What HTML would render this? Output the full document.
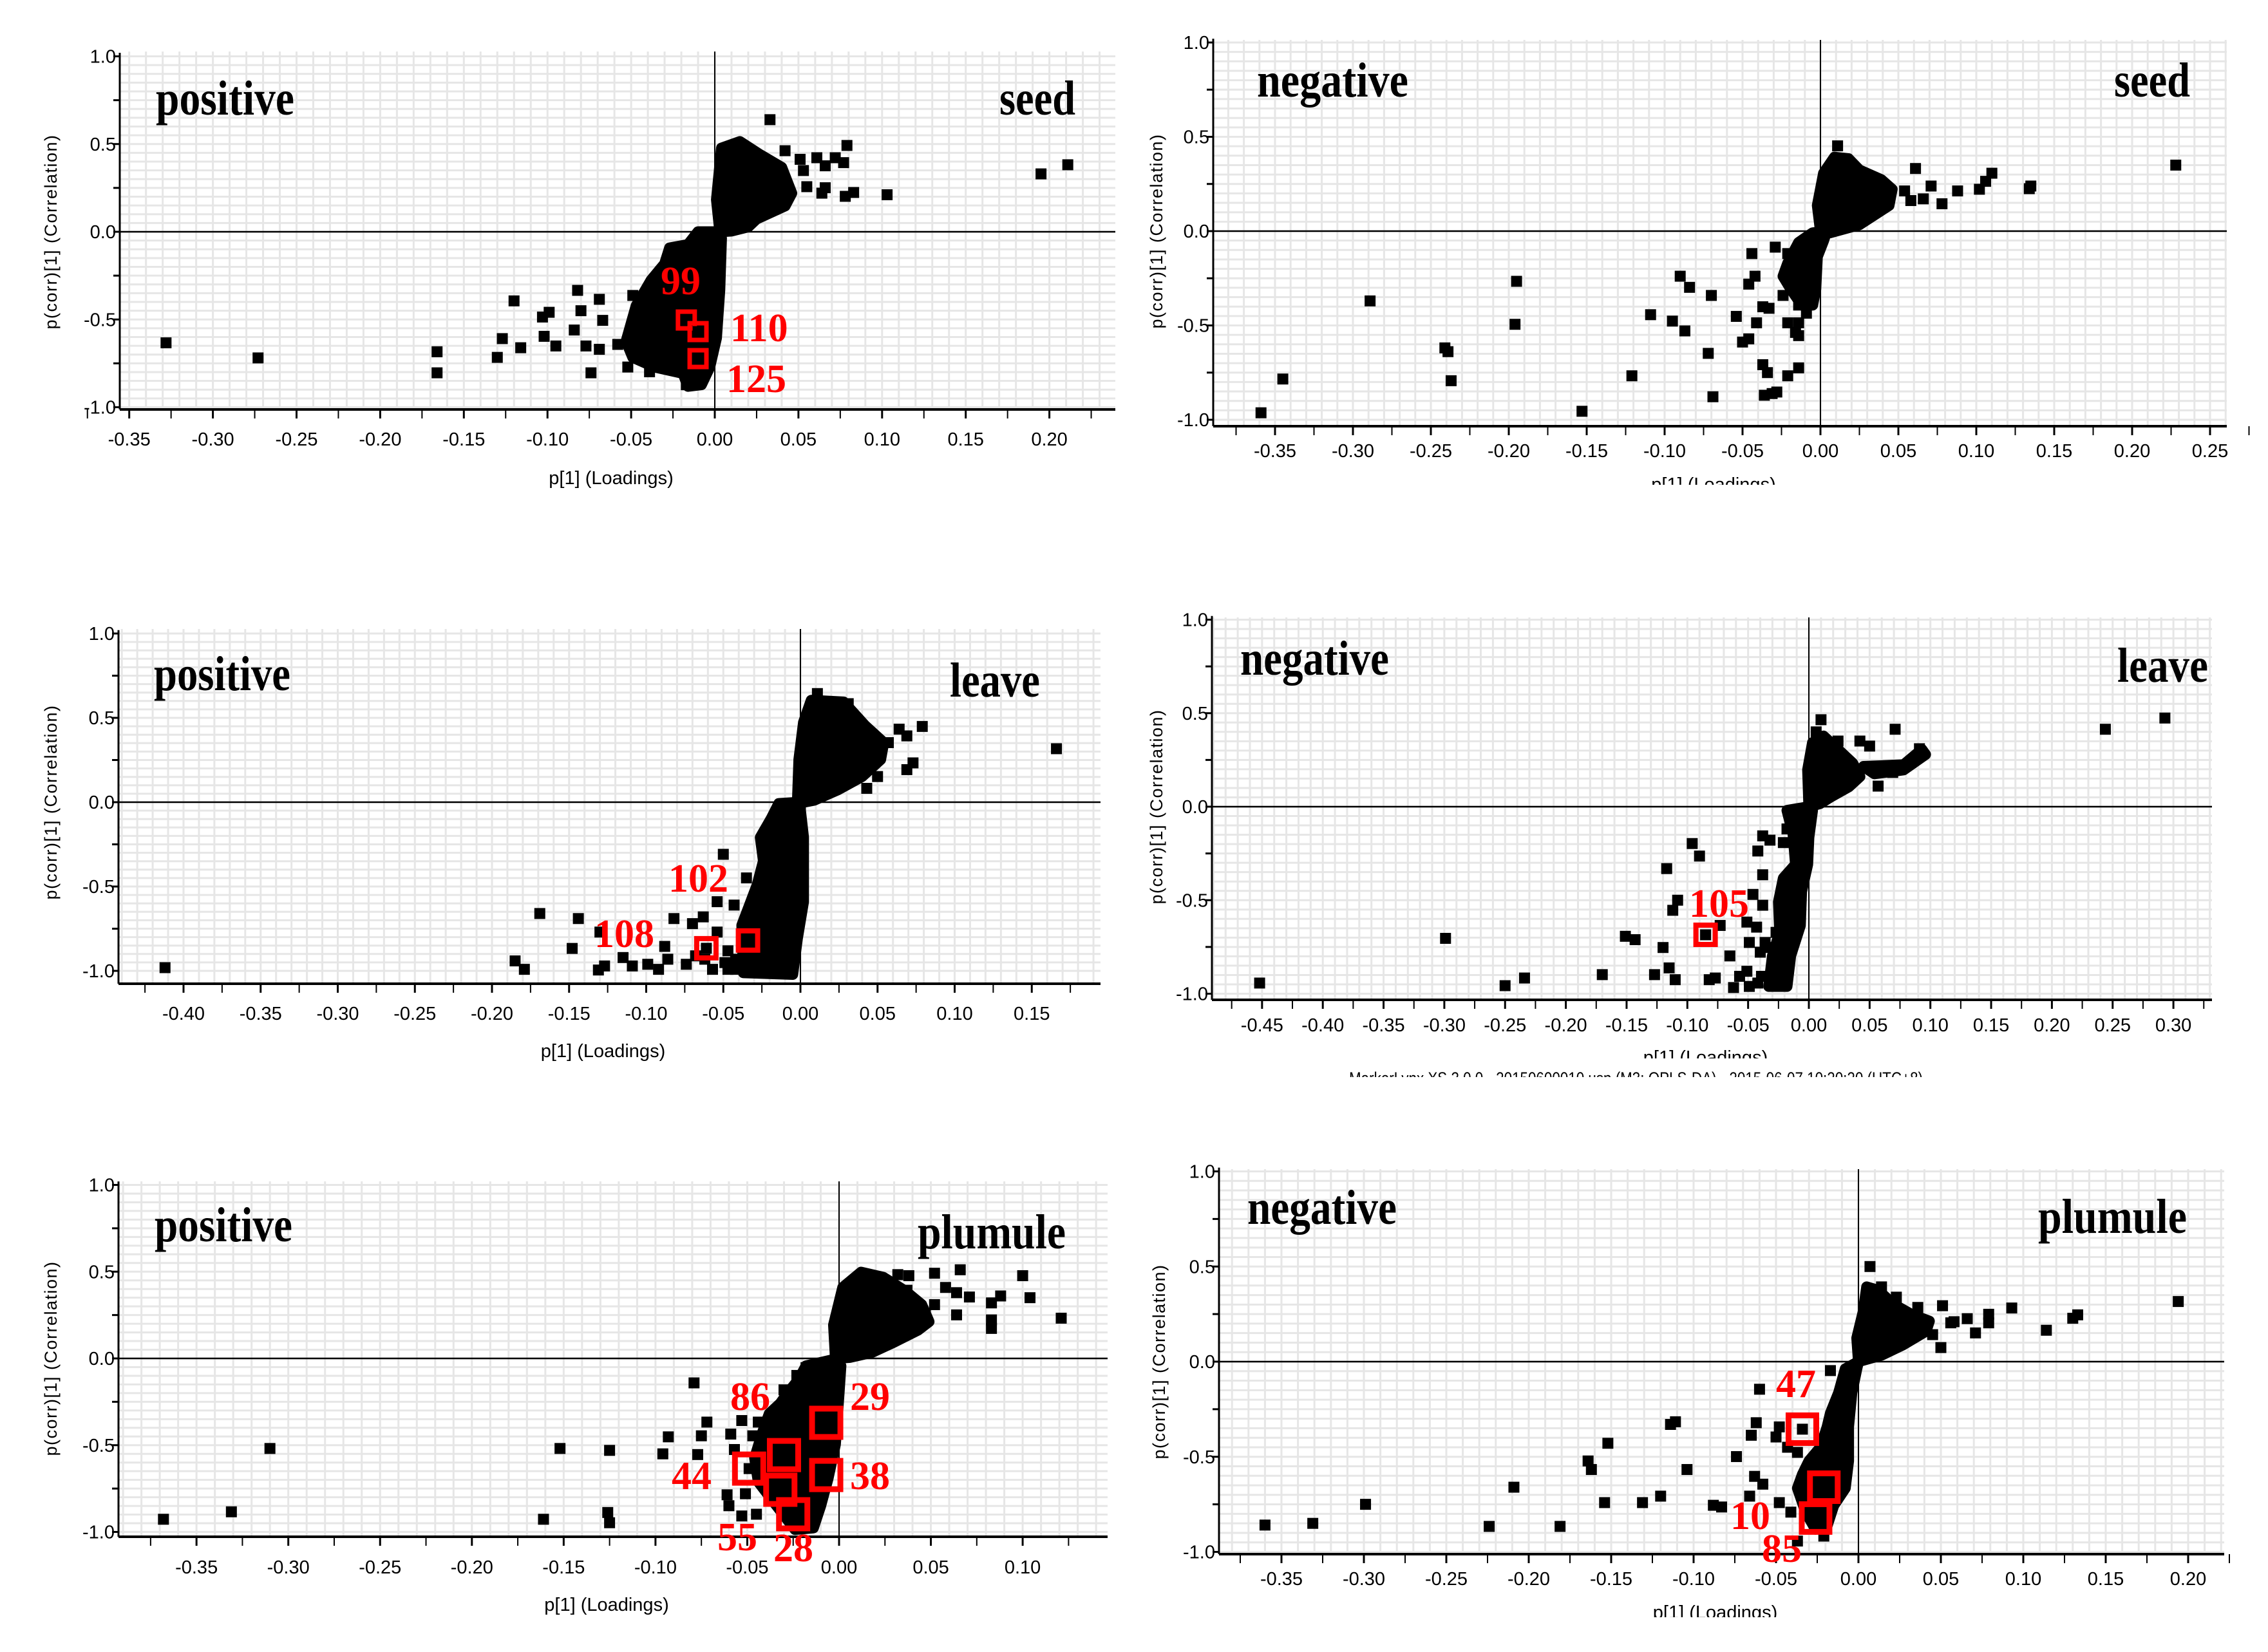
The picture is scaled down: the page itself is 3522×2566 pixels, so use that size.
<!DOCTYPE html>
<html><head><meta charset="utf-8">
<style>
html,body{margin:0;padding:0;background:#fff;}
svg{display:block;}
</style></head>
<body>
<svg id="fig" width="3522" height="2566" viewBox="0 0 3522 2566" xmlns="http://www.w3.org/2000/svg">
<rect x="0" y="0" width="3522" height="2566" fill="#fff"/>
<defs>
<clipPath id="clipR1"><rect x="1760" y="0" width="1762" height="753"/></clipPath>
<clipPath id="clipR2"><rect x="1760" y="900" width="1762" height="744"/></clipPath>
<clipPath id="clipFoot"><rect x="1760" y="1656" width="1762" height="17"/></clipPath>
<clipPath id="clipR3"><rect x="1760" y="1750" width="1762" height="762"/></clipPath>
</defs>
<g id="layer"></g>
</svg>
<script>
// ===== Data (p[1] loadings, p(corr)[1] correlation) =====
const xTicks1 = [-0.35,-0.30,-0.25,-0.20,-0.15,-0.10,-0.05,0.00,0.05,0.10,0.15,0.20];
const xTicks2 = [-0.35,-0.30,-0.25,-0.20,-0.15,-0.10,-0.05,0.00,0.05,0.10,0.15,0.20,0.25];
const xTicks3 = [-0.40,-0.35,-0.30,-0.25,-0.20,-0.15,-0.10,-0.05,0.00,0.05,0.10,0.15];
const xTicks4 = [-0.45,-0.40,-0.35,-0.30,-0.25,-0.20,-0.15,-0.10,-0.05,0.00,0.05,0.10,0.15,0.20,0.25,0.30];
const xTicks5 = [-0.35,-0.30,-0.25,-0.20,-0.15,-0.10,-0.05,0.00,0.05,0.10];
const xTicks6 = [-0.35,-0.30,-0.25,-0.20,-0.15,-0.10,-0.05,0.00,0.05,0.10,0.15,0.20];
const yTicks = [1.0,0.5,0.0,-0.5,-1.0];

const p1Points = [[-0.328,-0.633],[-0.273,-0.719],[-0.166,-0.684],[-0.166,-0.804],[-0.127,-0.609],[-0.130,-0.716],[-0.120,-0.394],[-0.116,-0.661],[-0.103,-0.486],[-0.099,-0.459],[-0.102,-0.596],[-0.095,-0.651],[-0.082,-0.334],[-0.080,-0.450],[-0.084,-0.560],[-0.069,-0.385],[-0.067,-0.505],[-0.077,-0.651],[-0.069,-0.670],[-0.074,-0.804],[-0.058,-0.642],[-0.049,-0.363],[-0.052,-0.771],[-0.039,-0.798],[-0.017,-0.872],[0.033,0.639],[0.079,0.492],[0.077,0.394],[0.083,0.224],[0.078,0.202],[0.103,0.211],[0.195,0.330],[0.211,0.382],[0.066,0.251],[0.064,0.220],[0.055,0.257],[0.051,0.413],[0.061,0.422],[0.042,0.462],[0.066,0.376],[0.072,0.422],[0.040,0.312],[0.053,0.349]];
const p1Upper = [[0.003,0],[0.001,0.183],[0.004,0.477],[0.015,0.514],[0.027,0.440],[0.040,0.367],[0.046,0.220],[0.042,0.147],[0.025,0.073],[0.020,0.028],[0.010,0.004]];
const p1Lower = [[0.003,0],[-0.010,0],[-0.016,-0.073],[-0.027,-0.092],[-0.030,-0.183],[-0.038,-0.275],[-0.047,-0.422],[-0.053,-0.624],[-0.049,-0.716],[-0.036,-0.771],[-0.019,-0.807],[-0.016,-0.881],[-0.008,-0.872],[-0.003,-0.771],[0.001,-0.606],[0.003,-0.330],[0.004,-0.037]];
const p1Marked = [[-0.017,-0.503],[-0.010,-0.569],[-0.010,-0.723]];
const p1MarkLabels = ["99","110","125"];

const p2Points = [[-0.359,-0.963],[-0.345,-0.784],[-0.289,-0.370],[-0.241,-0.619],[-0.239,-0.639],[-0.237,-0.793],[-0.195,-0.266],[-0.196,-0.494],[-0.153,-0.955],[-0.121,-0.767],[-0.109,-0.443],[-0.095,-0.477],[-0.090,-0.239],[-0.087,-0.529],[-0.084,-0.298],[-0.072,-0.648],[-0.070,-0.341],[-0.069,-0.878],[-0.054,-0.452],[-0.050,-0.588],[-0.046,-0.571],[-0.044,-0.119],[-0.042,-0.239],[-0.046,-0.281],[-0.041,-0.486],[-0.037,-0.708],[-0.034,-0.750],[-0.036,-0.870],[-0.031,-0.861],[-0.028,-0.853],[-0.037,-0.401],[-0.033,-0.409],[-0.029,-0.085],[-0.024,-0.341],[-0.021,-0.486],[-0.021,-0.767],[-0.014,-0.725],[-0.014,-0.486],[-0.016,-0.537],[-0.014,-0.554],[-0.014,-0.392],[-0.009,-0.435],[-0.006,-0.367],[-0.020,-0.205],[-0.021,-0.119],[0.061,0.332],[0.088,0.213],[0.078,0.145],[0.102,0.222],[0.106,0.264],[0.110,0.307],[0.134,0.225],[0.135,0.239],[0.228,0.350],[0.071,0.239],[0.066,0.171],[0.058,0.162],[0.054,0.213],[0.011,0.452]];
const p2Upper = [[0,0],[-0.002,0.136],[0.002,0.307],[0.009,0.392],[0.018,0.384],[0.025,0.324],[0.039,0.273],[0.046,0.222],[0.044,0.136],[0.025,0.034],[0.006,-0.009]];
const p2Lower = [[0.004,0],[-0.005,-0.009],[-0.014,-0.060],[-0.021,-0.170],[-0.024,-0.239],[-0.019,-0.307],[-0.012,-0.392],[-0.005,-0.392],[-0.003,-0.307],[-0.002,-0.136],[0.002,-0.051]];
const p2Marked = [];
const p2MarkLabels = [];

const p3Points = [[-0.412,-0.981],[-0.169,-0.660],[-0.144,-0.690],[-0.148,-0.867],[-0.185,-0.941],[-0.179,-0.991],[-0.130,-0.770],[-0.131,-0.995],[-0.127,-0.971],[-0.115,-0.921],[-0.109,-0.971],[-0.099,-0.961],[-0.092,-0.991],[-0.088,-0.855],[-0.086,-0.931],[-0.082,-0.690],[-0.074,-0.961],[-0.070,-0.720],[-0.063,-0.680],[-0.057,-0.991],[-0.050,-0.309],[-0.054,-0.590],[-0.043,-0.610],[-0.035,-0.449],[-0.035,-0.991],[-0.047,-0.881],[0.079,0.449],[0.069,0.393],[0.069,0.193],[0.073,0.233],[0.166,0.317],[0.057,0.353],[0.043,0.082],[0.050,0.152],[0.064,0.433],[0.011,0.644],[0.031,0.584],[-0.068,-0.911],[-0.062,-0.931],[-0.054,-0.770],[-0.049,-0.951],[-0.042,-0.931],[-0.047,-0.991],[-0.042,-0.991]];
const p3Upper = [[-0.002,-0.008],[-0.001,0.253],[0.002,0.473],[0.007,0.604],[0.028,0.594],[0.042,0.453],[0.054,0.353],[0.052,0.253],[0.040,0.152],[0.024,0.072],[0.009,0.012]];
const p3Lower = [[0,0],[-0.014,-0.008],[-0.019,-0.098],[-0.026,-0.209],[-0.024,-0.349],[-0.028,-0.489],[-0.033,-0.610],[-0.038,-0.730],[-0.037,-1.011],[-0.005,-1.021],[-0.002,-0.810],[0.002,-0.590],[0.002,-0.209],[0,-0.048]];
const p3Marked = [[-0.061,-0.866],[-0.034,-0.820]];
const p3MarkLabels = ["108","102"];

const p4Points = [[-0.452,-0.943],[-0.299,-0.704],[-0.250,-0.957],[-0.234,-0.916],[-0.170,-0.898],[-0.151,-0.693],[-0.143,-0.711],[-0.127,-0.898],[-0.120,-0.753],[-0.115,-0.862],[-0.110,-0.925],[-0.117,-0.331],[-0.112,-0.554],[-0.108,-0.500],[-0.096,-0.197],[-0.090,-0.264],[-0.082,-0.925],[-0.077,-0.916],[-0.073,-0.635],[-0.065,-0.798],[-0.062,-0.967],[-0.057,-0.907],[-0.051,-0.880],[-0.049,-0.726],[-0.046,-0.469],[-0.051,-0.617],[-0.043,-0.644],[-0.040,-0.778],[-0.038,-0.156],[-0.032,-0.179],[-0.042,-0.237],[-0.038,-0.364],[-0.038,-0.527],[-0.021,-0.192],[-0.018,-0.119],[-0.015,-0.038],[0.071,0.414],[0.057,0.110],[0.091,0.310],[0.084,0.237],[0.069,0.183],[0.050,0.324],[0.042,0.351],[0.010,0.465],[0.244,0.414],[0.293,0.474],[0.006,0.400],[0.024,0.351],[-0.027,-0.672],[-0.036,-0.726],[-0.027,-0.916],[-0.042,-0.943],[-0.049,-0.961],[-0.031,-0.753],[-0.030,-0.880],[-0.039,-0.907]];
const p4Upper = [[0,0],[-0.001,0.197],[0.003,0.342],[0.012,0.378],[0.021,0.324],[0.036,0.233],[0.042,0.161],[0.033,0.107],[0.018,0.052],[0.009,0.016]];
const p4Arm = [[0.045,0.215],[0.078,0.224],[0.093,0.306],[0.096,0.279],[0.078,0.197],[0.054,0.176]];
const p4Lower = [[0,0],[-0.018,-0.020],[-0.013,-0.147],[-0.011,-0.309],[-0.021,-0.382],[-0.025,-0.509],[-0.024,-0.672],[-0.030,-0.798],[-0.033,-0.961],[-0.018,-0.961],[-0.015,-0.798],[-0.007,-0.635],[-0.006,-0.454],[-0.001,-0.309],[0,-0.165],[0.003,-0.020]];
const p4Marked = [[-0.085,-0.685]];
const p4MarkLabels = ["105"];

const p5Points = [[-0.368,-0.927],[-0.331,-0.884],[-0.310,-0.519],[-0.161,-0.927],[-0.152,-0.519],[-0.125,-0.530],[-0.126,-0.888],[-0.125,-0.947],[-0.096,-0.550],[-0.093,-0.452],[-0.079,-0.141],[-0.077,-0.554],[-0.075,-0.446],[-0.072,-0.367],[-0.059,-0.436],[-0.057,-0.525],[-0.053,-0.358],[-0.061,-0.786],[-0.060,-0.849],[-0.051,-0.780],[-0.053,-0.908],[-0.045,-0.898],[-0.044,-0.367],[-0.047,-0.446],[-0.030,-0.181],[-0.018,-0.053],[-0.023,-0.098],[0.032,0.483],[0.038,0.477],[0.052,0.491],[0.066,0.511],[0.100,0.477],[0.104,0.350],[0.121,0.232],[0.083,0.173],[0.083,0.222],[0.083,0.320],[0.088,0.360],[0.064,0.251],[0.052,0.310],[0.058,0.409],[0.071,0.354],[0.064,0.379],[0.037,0.393],[0.047,0.251]];
const p5Upper = [[-0.002,0],[-0.003,0.193],[0.002,0.409],[0.012,0.497],[0.024,0.468],[0.036,0.389],[0.045,0.310],[0.049,0.212],[0.043,0.163],[0.030,0.094],[0.018,0.035],[0.006,0.006]];
const p5Lower = [[-0.002,-0.004],[-0.018,-0.043],[-0.022,-0.122],[-0.028,-0.200],[-0.032,-0.259],[-0.038,-0.318],[-0.042,-0.436],[-0.046,-0.574],[-0.044,-0.711],[-0.034,-0.849],[-0.024,-0.986],[-0.014,-0.977],[-0.010,-0.849],[-0.006,-0.692],[-0.002,-0.495],[0,-0.200],[0.001,-0.043]];
const p5Marked = [[-0.007,-0.371],[-0.030,-0.557],[-0.007,-0.672],[-0.049,-0.635],[-0.032,-0.757],[-0.025,-0.898]];
const p5MarkLabels = ["29","86","38","44","55","28"];

const p6Points = [[-0.360,-0.859],[-0.331,-0.850],[-0.299,-0.750],[-0.224,-0.866],[-0.209,-0.660],[-0.181,-0.866],[-0.164,-0.522],[-0.162,-0.567],[-0.154,-0.741],[-0.152,-0.429],[-0.131,-0.741],[-0.120,-0.707],[-0.114,-0.330],[-0.111,-0.316],[-0.104,-0.567],[-0.088,-0.755],[-0.083,-0.764],[-0.074,-0.499],[-0.066,-0.707],[-0.065,-0.387],[-0.062,-0.321],[-0.063,-0.603],[-0.060,-0.145],[-0.058,-0.644],[-0.048,-0.741],[-0.041,-0.791],[-0.037,-0.943],[-0.021,-0.917],[-0.050,-0.396],[-0.048,-0.343],[-0.043,-0.450],[-0.037,-0.477],[-0.017,-0.047],[0.007,0.500],[0.051,0.294],[0.050,0.074],[0.093,0.282],[0.114,0.165],[0.130,0.228],[0.133,0.246],[0.194,0.316],[0.079,0.249],[0.079,0.204],[0.071,0.151],[0.066,0.226],[0.058,0.210],[0.056,0.204],[0.045,0.142],[0.036,0.285],[0.023,0.339],[0.014,0.393]];
const p6Upper = [[0,0],[-0.001,0.124],[0.003,0.267],[0.005,0.393],[0.012,0.375],[0.021,0.303],[0.032,0.249],[0.043,0.213],[0.041,0.160],[0.027,0.088],[0.014,0.034]];
const p6Lower = [[0,0],[-0.008,-0.038],[-0.012,-0.163],[-0.017,-0.271],[-0.019,-0.343],[-0.023,-0.450],[-0.030,-0.522],[-0.034,-0.593],[-0.037,-0.665],[-0.032,-0.791],[-0.026,-0.881],[-0.019,-0.863],[-0.015,-0.756],[-0.008,-0.665],[-0.006,-0.522],[-0.006,-0.343],[-0.004,-0.163],[-0.001,-0.038]];
const p6Marked = [[-0.034,-0.355],[-0.021,-0.660],[-0.026,-0.822]];
const p6MarkLabels = ["47","10","85"];

// ===== Layout (pixel geometry, not data) =====
const NS = "http://www.w3.org/2000/svg";
const layer = document.getElementById('layer');
const panels = [
 {id:'seed-positive', clip:null, L:186,R:1732,T:80,B:636,x0:1110,xs:2598,y0:360,ys:272.5, ticks:xTicks1, tl:692, xl:752, yt:79,
  ion:'positive', ionX:242, ionY:178, ionW:215, tis:'seed', tisX:1670, tisY:178, tisW:118,
  pts:p1Points, blobs:[p1Upper,p1Lower], marks:p1Marked, box:26, bw:7,
  labs:[[1026,457],[1134,530],[1128,609]], labT:p1MarkLabels},
 {id:'seed-negative', clip:'clipR1', L:1884,R:3458,T:62,B:662,x0:2827,xs:2420,y0:359,ys:293, ticks:xTicks2, tl:710, xl:762, yt:1796,
  ion:'negative', ionX:1952, ionY:150, ionW:235, tis:'seed', tisX:3401, tisY:150, tisW:118,
  pts:p2Points, blobs:[p2Upper,p2Lower], marks:p2Marked, box:26, bw:7, labs:[], labT:p2MarkLabels},
 {id:'leave-positive', clip:null, L:184,R:1709,T:977,B:1528,x0:1243,xs:2395,y0:1246,ys:262, ticks:xTicks3, tl:1584, xl:1642, yt:79,
  ion:'positive', ionX:239, ionY:1072, ionW:212, tis:'leave', tisX:1615, tisY:1082, tisW:140,
  pts:p3Points, blobs:[p3Upper,p3Lower], marks:p3Marked, box:30, bw:8,
  labs:[[923,1471],[1038,1385]], labT:p3MarkLabels},
 {id:'leave-negative', clip:'clipR2', L:1882,R:3435,T:959,B:1553,x0:2809,xs:1887,y0:1253,ys:290.5, ticks:xTicks4, tl:1602, xl:1652, yt:1796,
  ion:'negative', ionX:1926, ionY:1048, ionW:231, tis:'leave', tisX:3429, tisY:1059, tisW:141,
  pts:p4Points, blobs:[p4Upper,p4Arm,p4Lower], marks:p4Marked, box:30, bw:8,
  labs:[[2623,1424]], labT:p4MarkLabels},
 {id:'plumule-positive', clip:null, L:184,R:1720,T:1835,B:2387,x0:1303,xs:2851,y0:2110,ys:269.5, ticks:xTicks5, tl:2444, xl:2502, yt:79,
  ion:'positive', ionX:240, ionY:1928, ionW:214, tis:'plumule', tisX:1655, tisY:1939, tisW:230,
  pts:p5Points, blobs:[p5Upper,p5Lower], marks:p5Marked, box:44, bw:9,
  labs:[[1320,2190],[1134,2190],[1320,2313],[1043,2313],[1114,2408],[1201,2425]], labT:p5MarkLabels},
 {id:'plumule-negative', clip:'clipR3', L:1893,R:3454,T:1816,B:2414,x0:2886,xs:2560,y0:2115,ys:295.5, ticks:xTicks6, tl:2462, xl:2514, yt:1800,
  ion:'negative', ionX:1937, ionY:1901, ionW:232, tis:'plumule', tisX:3396, tisY:1915, tisW:231,
  pts:p6Points, blobs:[p6Upper,p6Lower], marks:p6Marked, box:43, bw:9,
  labs:[[2758,2170],[2687,2375],[2736,2426]], labT:p6MarkLabels}
];

function mk(tag, parent, attrs){
  const e = document.createElementNS(NS, tag);
  for (const k in attrs) e.setAttribute(k, attrs[k]);
  parent.appendChild(e);
  return e;
}
const MS = 17;

panels.forEach(function(p, pi){
  const g = mk('g', layer, {});
  
  
  if (p.clip) g.setAttribute('clip-path', 'url(#' + p.clip + ')');
  const X = v => p.x0 + v * p.xs;
  const Y = v => p.y0 - v * p.ys;
  const grid = mk('g', g, {stroke:'#e6e6e6','stroke-width':3});
  
  
  const xmin = (p.L - p.x0)/p.xs, xmax = (p.R - p.x0)/p.xs;
  for (let k = Math.ceil(xmin*100); k <= Math.floor(xmax*100); k++){
    const x = X(k/100);
    mk('line', grid, {x1:x, x2:x, y1:p.T, y2:p.B});
  }
  for (let k = -20; k <= 21; k++){
    const y = Y(k*0.05);
    if (y < p.T || y > p.B) continue;
    mk('line', grid, {x1:p.L, x2:p.R, y1:y, y2:y});
  }
  const zx = mk('line', g, {x1:X(0), x2:X(0), y1:p.T, y2:p.B, stroke:'#000','stroke-width':2});
  
  
  const zy = mk('line', g, {x1:p.L, x2:p.R, y1:Y(0), y2:Y(0), stroke:'#000','stroke-width':2.5});
  
  
  const ya = mk('line', g, {x1:p.L, x2:p.L, y1:Y(1.02), y2:p.B, stroke:'#000','stroke-width':3});
  
  
  const xa = mk('line', g, {x1:p.L, x2:p.R, y1:p.B, y2:p.B, stroke:'#000','stroke-width':4});
  
  
  yTicks.forEach(function(v){
    mk('line', g, {x1:p.L-10, x2:p.L, y1:Y(v), y2:Y(v), stroke:'#000','stroke-width':3});
    const t = mk('text', g, {x:p.L-6, y:Y(v)+10, 'text-anchor':'end','font-family':'Liberation Sans, sans-serif','font-size':29, fill:'#000'});
    t.textContent = v.toFixed(1);
    
    
  });
  [0.75,0.25,-0.25,-0.75].forEach(function(v){
    mk('line', g, {x1:p.L-10, x2:p.L, y1:Y(v), y2:Y(v), stroke:'#000','stroke-width':3});
  });
  p.ticks.forEach(function(v){
    mk('line', g, {x1:X(v), x2:X(v), y1:p.B, y2:p.B+14, stroke:'#000','stroke-width':3});
    mk('line', g, {x1:X(v+0.025), x2:X(v+0.025), y1:p.B, y2:p.B+14, stroke:'#000','stroke-width':2});
    const t = mk('text', g, {x:X(v), y:p.tl, 'text-anchor':'middle','font-family':'Liberation Sans, sans-serif','font-size':29, fill:'#000'});
    t.textContent = v.toFixed(2);
    
    
  });
  mk('line', g, {x1:X(p.ticks[0]-0.025), x2:X(p.ticks[0]-0.025), y1:p.B, y2:p.B+14, stroke:'#000','stroke-width':2});
  const xt = mk('text', g, {x:(p.L+p.R)/2 - 10, y:p.xl, 'text-anchor':'middle','font-family':'Liberation Sans, sans-serif','font-size':29, fill:'#000'});
  xt.textContent = 'p[1] (Loadings)';
  
  
  const ytt = mk('text', g, {x:0, y:0, transform:'translate(' + (p.yt+9) + ',' + Y(0) + ') rotate(-90)', 'text-anchor':'middle','font-family':'Liberation Sans, sans-serif','font-size':27,'letter-spacing':1.5, fill:'#000'});
  ytt.textContent = 'p(corr)[1] (Correlation)';
  
  
  p.blobs.forEach(function(b){
    const pl = mk('polygon', g, {points: b.map(d => X(d[0]) + ',' + Y(d[1])).join(' '), fill:'#000', stroke:'#000','stroke-width':MS,'stroke-linejoin':'round'});
    
    
  });
  p.pts.forEach(function(d){
    const r = mk('rect', g, {x:X(d[0])-MS/2, y:Y(d[1])-MS/2, width:MS, height:MS, fill:'#000'});
    
    
  });
  p.marks.forEach(function(d){
    const s = p.box;
    const inner = mk('rect', g, {x:X(d[0])-MS/2, y:Y(d[1])-MS/2, width:MS, height:MS, fill:'#000'});
    
    
    const r = mk('rect', g, {x:X(d[0])-s/2, y:Y(d[1])-s/2, width:s, height:s, fill:'none', stroke:'#ff0000','stroke-width':p.bw});
    
    
  });
  p.labs.forEach(function(l, i){
    const t = mk('text', g, {x:l[0], y:l[1], 'font-family':'Liberation Serif, serif','font-weight':'bold','font-size':62, fill:'#ff0000'});
    t.textContent = p.labT[i];
    
    
  });
  const a = mk('text', g, {x:p.ionX, y:p.ionY, 'font-family':'Liberation Serif, serif','font-weight':'bold','font-size':76, textLength:p.ionW, lengthAdjust:'spacingAndGlyphs', fill:'#000'});
  a.textContent = p.ion;
  
  
  const b = mk('text', g, {x:p.tisX - p.tisW, y:p.tisY, 'font-family':'Liberation Serif, serif','font-weight':'bold','font-size':76, textLength:p.tisW, lengthAdjust:'spacingAndGlyphs', fill:'#000'});
  b.textContent = p.tis;
  
  
});

const fg = mk('g', layer, {'clip-path':'url(#clipFoot)'});


const ft = mk('text', fg, {x:2095, y:1684, 'font-family':'Liberation Sans, sans-serif','font-size':27, textLength:891, lengthAdjust:'spacingAndGlyphs', fill:'#000'});
ft.textContent = 'MarkerLynx XS 3.0.0 - 20150600010.usp (M3: OPLS-DA) - 2015-06-07 10:20:20 (UTC+8)';


</script>
</body></html>
